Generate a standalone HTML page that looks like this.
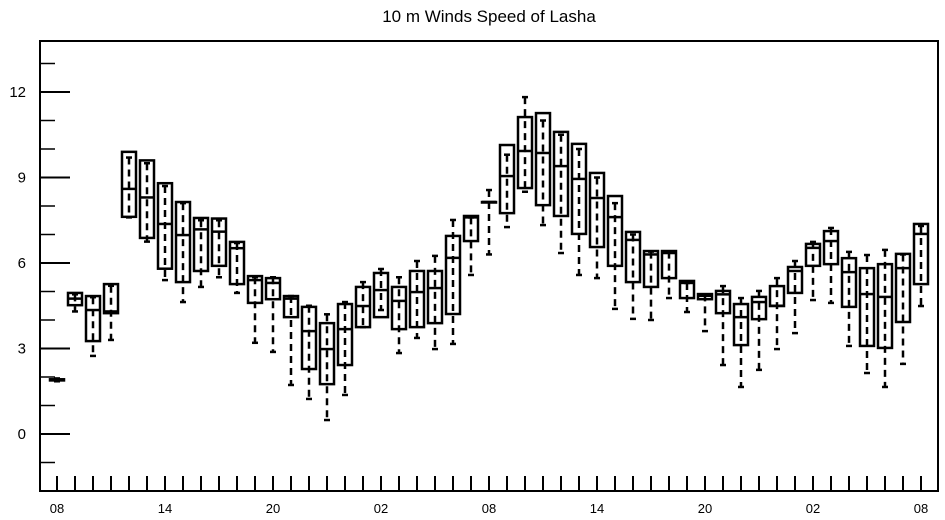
<!DOCTYPE html>
<html><head><meta charset="utf-8"><style>
body{margin:0;background:#fff;}
svg{display:block;font-family:"Liberation Sans",sans-serif;}
</style></head><body>
<svg id="chart" width="945" height="520" viewBox="0 0 945 520">
<text x="489" y="22" text-anchor="middle" font-size="17">10 m Winds Speed of Lasha</text>
<g id="plot"></g>
<g id="axes"></g>
</svg>
<script>
const hours = [];
const maxV = [1.95,4.9,4.8,5.2,9.7,9.5,8.7,8.1,7.5,7.5,6.7,5.5,5.5,4.84,4.5,4.2,4.63,5.33,5.79,5.5,6.07,6.25,7.51,7.6,8.56,9.8,11.82,11.0,10.5,10.0,9.0,8.1,7.0,6.4,6.4,5.3,4.9,5.19,4.77,5.02,5.47,6.07,6.74,7.23,6.39,6.28,6.46,6.3,7.3];
const q3V = [1.92,4.95,4.84,5.26,9.9,9.6,8.8,8.14,7.58,7.56,6.74,5.54,5.47,4.84,4.46,3.89,4.56,5.16,5.65,5.16,5.72,5.72,6.95,7.65,8.14,10.14,11.12,11.26,10.6,10.18,9.16,8.35,7.09,6.42,6.42,5.37,4.91,5.02,4.56,4.81,5.19,5.86,6.67,7.12,6.17,5.82,5.96,6.32,7.37];
const medV = [1.9,4.75,4.35,4.3,8.6,8.3,7.37,6.98,7.18,7.1,6.52,5.4,5.3,4.75,3.61,2.98,3.68,4.49,5.05,4.67,4.98,5.12,6.18,7.6,8.14,9.05,9.93,9.86,9.4,8.95,8.28,7.61,6.81,6.3,6.35,5.3,4.85,4.9,4.1,4.63,4.5,5.72,6.53,6.77,5.68,4.91,4.81,5.82,7.02];
const q1V = [1.88,4.52,3.26,4.24,7.62,6.88,5.8,5.33,5.72,5.9,5.26,4.6,4.73,4.1,2.28,1.75,2.42,3.75,4.1,3.68,3.75,3.89,4.21,6.77,8.14,7.75,8.63,8.03,7.65,7.02,6.56,5.9,5.33,5.16,5.47,4.77,4.73,4.24,3.12,4.03,4.49,4.95,5.9,5.96,4.46,3.09,3.02,3.93,5.26];
const minV = [1.85,4.3,2.74,3.3,7.6,6.75,5.4,4.63,5.16,5.5,4.95,3.2,2.88,1.72,1.23,0.49,1.37,3.75,4.35,2.84,3.37,2.98,3.16,5.58,6.3,7.26,8.5,7.33,6.35,5.58,5.47,4.39,4.04,4.0,4.77,4.28,3.61,2.42,1.65,2.25,2.98,3.54,4.7,4.6,3.09,2.14,1.65,2.46,4.49];
const xTickLabels = ["08","14","20","02","08","14","20","02","08"];
const yTickLabels = ["0","3","6","9","12"];
for (let i=0;i<maxV.length;i++) hours.push(i);

const L=40,R=938,T=41,B=491;
const xS = h => 57 + h*18;
const yS = v => 434 - v*28.5;
const NS="http://www.w3.org/2000/svg";
function mk(tag, attrs, parent){const e=document.createElementNS(NS,tag);for(const k in attrs)e.setAttribute(k,attrs[k]);parent.appendChild(e);return e;}
const plot=document.getElementById('plot'), axes=document.getElementById('axes');

hours.forEach((h,i)=>{
  const g=mk('g',{},plot);
  
  
  const x=xS(h);
  const w=mk('line',{x1:x,x2:x,y1:yS(maxV[i]),y2:yS(minV[i]),stroke:'#000','stroke-width':2.5,'stroke-dasharray':'7 5'},g);
  
  
  [maxV[i],minV[i]].forEach(v=>{mk('line',{x1:x-3,x2:x+3,y1:yS(v),y2:yS(v),stroke:'#000','stroke-width':2.5},g);});
  const top=yS(q3V[i]), bot=yS(q1V[i]);
  const r=mk('rect',{x:x-7,y:top,width:14,height:Math.max(bot-top,0.5),fill:'none',stroke:'#000','stroke-width':2.5},g);
  
  
  mk('line',{x1:x-7,x2:x+7,y1:yS(medV[i]),y2:yS(medV[i]),stroke:'#000','stroke-width':2.5},g);
});

mk('rect',{x:L,y:T,width:R-L,height:B-T,fill:'none',stroke:'#000','stroke-width':2},axes);
for(let v=-1;v<=13;v++){
  const y=yS(v), major=(v%3===0);
  mk('line',{x1:L,x2:L+(major?30:15),y1:y,y2:y,stroke:'#000','stroke-width':major?2:1.5},axes);
}
yTickLabels.forEach((t,i)=>{
  const e=mk('text',{x:26,y:yS(i*3)+5,'text-anchor':'end','font-size':15},axes);
  e.textContent=t;
  
  
});
hours.forEach(h=>{mk('line',{x1:xS(h),x2:xS(h),y1:B,y2:B-15,stroke:'#000','stroke-width':2},axes);});
xTickLabels.forEach((t,i)=>{
  const e=mk('text',{x:xS(i*6),y:513,'text-anchor':'middle','font-size':13},axes);
  e.textContent=t;
  
  
});
</script>
</body></html>
